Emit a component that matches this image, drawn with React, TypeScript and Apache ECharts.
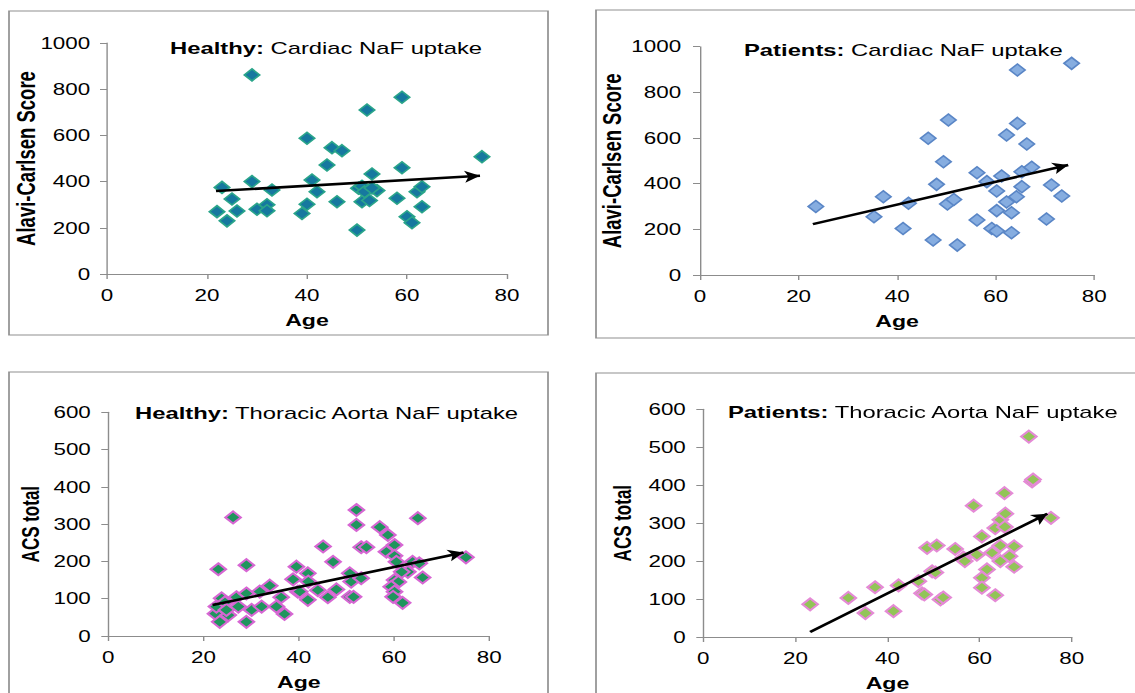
import React, { useEffect, useRef } from "react";
import * as echarts from "echarts";

// The reference image is stretched horizontally; render narrower and scale X.
const S = 1.4;
const W = 1135 / S;
const H = 693;

// ---------- DATA ----------
const healthyCardiac: number[][] = [
  [22, 270], [24, 230], [23, 375], [25, 325], [26, 273], [29, 862], [29, 400], [30, 280],
  [32, 300], [32, 274], [33, 364], [39, 262], [40, 302], [40, 588], [41, 407], [42, 356],
  [44, 472], [45, 547], [47, 534], [46, 313], [50, 190], [50.3, 371], [51, 380], [51.5, 356],
  [51, 313], [52, 710], [52.5, 318], [53, 433], [54, 361], [53, 372], [58, 328], [59, 765],
  [59, 460], [60, 248], [61, 222], [62, 356], [63, 378], [63, 291], [75, 508],
];
const patientsCardiac: number[][] = [
  [23.5, 300], [35.3, 255], [37.2, 343], [41.2, 204], [42.3, 314], [46.3, 599], [47.3, 153],
  [48, 397], [49.4, 496], [50.4, 679], [50.2, 311], [51.5, 331], [52.2, 131], [56.2, 448],
  [56.2, 241], [58.2, 409], [59.2, 204], [60.2, 193], [60.2, 282], [60.2, 368], [61.2, 434],
  [62.2, 613], [62.2, 320], [63.2, 273], [63.2, 185], [64.4, 664], [64.4, 898], [64.2, 343],
  [65.3, 452], [65.3, 387], [66.3, 574], [67.3, 472], [70.3, 245], [71.3, 394], [73.4, 346],
  [75.4, 927],
];
const healthyAorta: number[][] = [
  [22.5, 60], [22.7, 79], [23.1, 179], [23.4, 38], [23.8, 101], [24.5, 90], [25.2, 56],
  [24.8, 70], [26.2, 318], [26.9, 104], [27.3, 79], [29, 190], [29, 114], [29, 38], [30.1, 70],
  [31.8, 119], [32.2, 79], [33.9, 135], [35.3, 79], [36.3, 104], [37, 59], [38.8, 152],
  [39.5, 186], [39.8, 119], [41.9, 168], [42, 146], [40.2, 119], [41.9, 97], [44, 123],
  [45.1, 240], [46.1, 104], [47.2, 199], [47.9, 125], [50.7, 168], [51, 146], [50.7, 105],
  [51.5, 105], [53.1, 155], [52.1, 338], [52.1, 298], [53.1, 238], [54.2, 238], [57, 292],
  [58.7, 271], [60.1, 244], [58.4, 226], [60.1, 215], [60.5, 199], [63.9, 199], [62.9, 172],
  [61.6, 172], [65.3, 195], [66, 157], [65, 316], [60.1, 150], [60.9, 145], [59.4, 132],
  [60.1, 119], [59.8, 105], [61.8, 89], [75.1, 211],
];
const patientsAorta: number[][] = [
  [23.2, 86], [31.5, 103], [35.2, 63], [37.3, 131], [41.3, 68], [42.4, 136], [46.7, 147],
  [47.5, 115], [48, 112], [48.6, 235], [50.7, 241], [49.7, 173], [50.4, 170], [51.5, 99],
  [52.1, 104], [54.7, 232], [56.5, 209], [56.8, 200], [58.7, 346], [59.4, 217], [60.5, 265],
  [61.6, 178], [60.5, 156], [60.5, 130], [62.7, 222], [63.4, 287], [63.4, 110], [64.5, 309],
  [65.6, 325], [65.5, 290], [65.4, 379], [64.5, 241], [64.5, 200], [66.5, 213], [67.5, 239],
  [67.5, 185], [70.7, 528], [71.4, 410], [71.6, 415], [75.5, 314],
];

const trendHealthyCardiac = [[21.8, 359], [74.6, 425]];
const trendPatientsCardiac = [[22.9, 223], [74.7, 482]];
const trendHealthyAorta = [[21.9, 83], [74.6, 224]];
const trendPatientsAorta = [[23.2, 13], [74.7, 325]];

const titleBold = ["Healthy:", "Patients:", "Healthy:", "Patients:"];
const titleRest = [
  "Cardiac NaF uptake",
  "Cardiac NaF uptake",
  "Thoracic Aorta NaF uptake",
  "Thoracic Aorta NaF uptake",
];
const yNames = ["Alavi-Carlsen Score", "Alavi-Carlsen Score", "ACS total", "ACS total"];
const xName = "Age";
const xRange = [0, 80, 20];
const yRanges = [[0, 1000, 200], [0, 1000, 200], [0, 600, 100], [0, 600, 100]];

// ---------- LAYOUT / STYLE ----------
const FONT = "'Liberation Sans', Arial, Helvetica, sans-serif";
const u = (x: number) => x / S;

const grids = [
  { left: u(107), top: 43, width: u(507) - u(107), height: 231 },
  { left: u(700), top: 46.7, width: u(1094.3) - u(700), height: 228.3 },
  { left: u(108.3), top: 412.3, width: u(489.3) - u(108.3), height: 223.7 },
  { left: u(703.3), top: 409.3, width: u(1071.7) - u(703.3), height: 228.4 },
];
const titlePos = [
  { left: u(170), top: 38 },
  { left: u(744), top: 40 },
  { left: u(135), top: 403 },
  { left: u(728), top: 402 },
];
const yNameGaps = [48, 53, 47, 49];
const yNameSizes = [18.5, 18.5, 17, 17];
const yLabelMargins = [12, 13.5, 12.5, 12.5];
const styles = [
  { color: "#16789f", borderColor: "#2aa58a", borderWidth: 1.4 },
  { color: "#86ade0", borderColor: "#5a86c6", borderWidth: 1.4 },
  { color: "#1f955d", borderColor: "#d766d3", borderWidth: 1.8 },
  { color: "#92c457", borderColor: "#e58ad6", borderWidth: 1.8 },
];
const seriesData = [healthyCardiac, patientsCardiac, healthyAorta, patientsAorta];
const trends = [trendHealthyCardiac, trendPatientsCardiac, trendHealthyAorta, trendPatientsAorta];

export default function App() {
  const ref = useRef<HTMLDivElement>(null);

  useEffect(() => {
    if (!ref.current) return;
    const chart = echarts.init(ref.current, null, { renderer: "svg", width: W, height: H });
    const axisColor = "#8c8c8c";

    const xAxis = grids.map((_, i) => ({
      type: "value",
      gridIndex: i,
      min: xRange[0],
      max: xRange[1],
      interval: xRange[2],
      name: xName,
      nameLocation: "middle",
      nameGap: 38,
      nameMoveOverlap: false,
      nameTextStyle: { fontFamily: FONT, fontWeight: "bold", fontSize: 16.5, color: "#000" },
      axisLine: { show: true, onZero: false, lineStyle: { color: axisColor, width: 1 } },
      axisTick: { show: true, length: 5, lineStyle: { color: axisColor, width: 1 } },
      axisLabel: { fontFamily: FONT, fontSize: 16, color: "#000", margin: 13, formatter: (v: number) => String(v) },
      splitLine: { show: false },
    }));
    const yAxis = grids.map((_, i) => ({
      type: "value",
      gridIndex: i,
      min: yRanges[i][0],
      max: yRanges[i][1],
      interval: yRanges[i][2],
      name: yNames[i],
      nameLocation: "middle",
      nameGap: yNameGaps[i],
      nameMoveOverlap: false,
      nameTextStyle: { fontFamily: FONT, fontWeight: "bold", fontSize: yNameSizes[i], color: "#000" },
      axisLine: { show: true, onZero: false, lineStyle: { color: axisColor, width: 1 } },
      axisTick: { show: true, length: 5, lineStyle: { color: axisColor, width: 1 } },
      axisLabel: {
        fontFamily: FONT,
        fontSize: 16,
        color: "#000",
        margin: yLabelMargins[i],
        formatter: (v: number) => String(v),
      },
      splitLine: { show: false },
    }));

    const title = titlePos.map((p, i) => ({
      text: `{b|${titleBold[i]}} ${titleRest[i]}`,
      left: p.left,
      top: p.top,
      padding: 0,
      textStyle: {
        fontFamily: FONT,
        fontSize: 17,
        fontWeight: "normal",
        color: "#000",
        lineHeight: 20,
        rich: { b: { fontFamily: FONT, fontSize: 17, fontWeight: "bold", color: "#000", lineHeight: 20 } },
      },
    }));

    const series = seriesData.map((d, i) => ({
      type: "scatter",
      xAxisIndex: i,
      yAxisIndex: i,
      data: d,
      symbol: "diamond",
      symbolSize: [11, 12],
      itemStyle: { ...styles[i], opacity: 1 },
      z: 2,
      markLine: {
        silent: true,
        symbol: ["none", "arrow"],
        symbolSize: [9, 11],
        label: { show: false },
        lineStyle: { color: "#000", width: 2.5, type: "solid" },
        emphasis: { disabled: true },
        data: [[{ coord: trends[i][0] }, { coord: trends[i][1] }]],
        z: 5,
      },
    }));

    const borderStyle = { stroke: "#8f8f8f", fill: "none", lineWidth: 1.2 };
    const graphic = [
      { type: "rect", shape: { x: u(9), y: 11, width: u(548) - u(9), height: 324 }, style: borderStyle, silent: true },
      { type: "rect", shape: { x: u(596), y: 10, width: u(1145) - u(596), height: 328 }, style: borderStyle, silent: true },
      { type: "rect", shape: { x: u(9), y: 372, width: u(548) - u(9), height: 400 }, style: borderStyle, silent: true },
      { type: "rect", shape: { x: u(596), y: 373, width: u(1145) - u(596), height: 400 }, style: borderStyle, silent: true },
    ];

    chart.setOption({
      animation: false,
      backgroundColor: "#fff",
      textStyle: { fontFamily: FONT },
      title,
      grid: grids.map((g) => ({ ...g, containLabel: false })),
      xAxis,
      yAxis,
      series,
      graphic,
    });

    return () => chart.dispose();
  }, []);

  return (
    <div
      style={{
        position: "fixed",
        left: 0,
        top: 0,
        width: 1135,
        height: 693,
        overflow: "hidden",
        background: "#fff",
      }}
    >
      <div
        ref={ref}
        style={{
          width: W,
          height: H,
          transform: `scaleX(${S})`,
          transformOrigin: "0 0",
        }}
      />
    </div>
  );
}
